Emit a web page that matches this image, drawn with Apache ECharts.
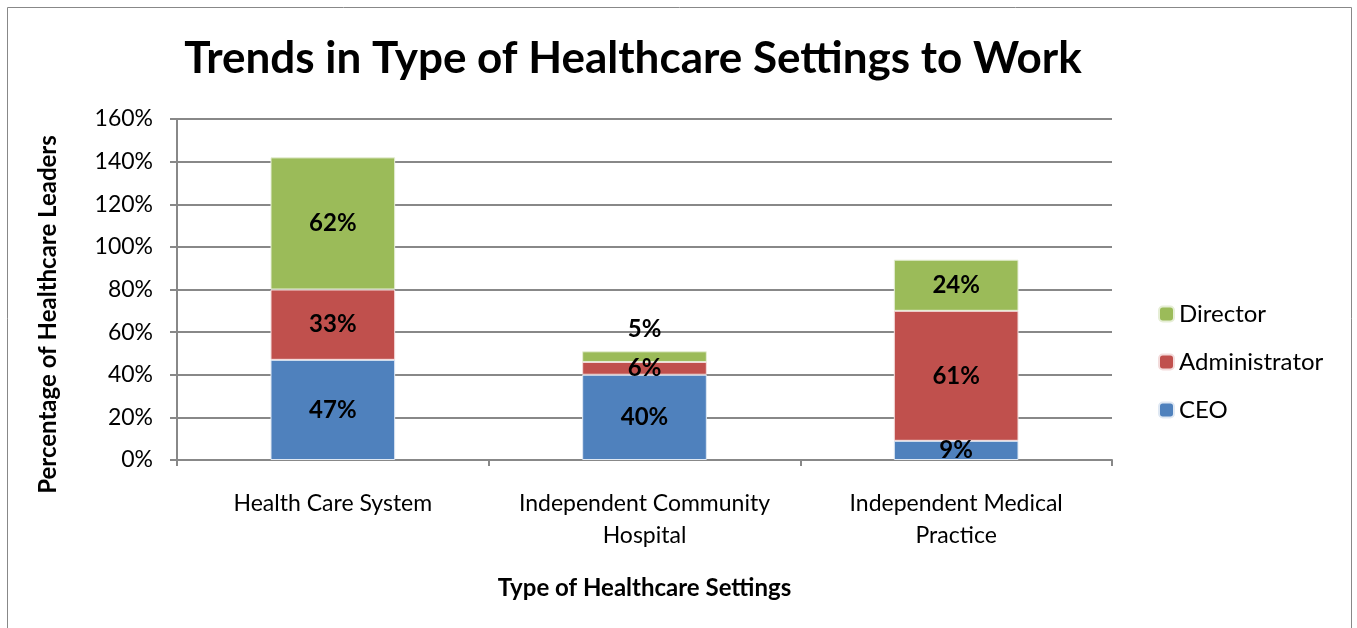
<!DOCTYPE html>
<html>
<head>
<meta charset="utf-8">
<style>
  html, body { margin: 0; padding: 0; background: #fff; }
  #chart { width: 1357px; height: 628px; }
</style>
<script src="https://cdn.jsdelivr.net/npm/echarts@6/dist/echarts.min.js"></script>
</head>
<body>
<div id="chart"></div>
<script>
// Trends in type of healthcare settings - stacked bar
const categories = ['Health Care System', 'Independent Community\nHospital', 'Independent Medical\nPractice'];
const ceo = [47, 40, 9];
const administrator = [33, 6, 61];
const director = [62, 5, 24];
const yTicks = [0, 20, 40, 60, 80, 100, 120, 140, 160];

const font = 'Lato, "Open Sans", sans-serif';
const chart = echarts.init(document.getElementById('chart'));

const barLabel = {
    show: true,
    position: 'inside',
    formatter: p => p.value + '%',
    color: '#000',
    fontWeight: 'bold',
    fontSize: 24,
    fontFamily: font
};

chart.setOption({
    animation: false,
    textStyle: { fontFamily: font },
    graphic: [{
        type: 'rect',
        shape: { x: 7.5, y: 7.5, width: 1344, height: 640 },
        style: { fill: 'none', stroke: '#888', lineWidth: 1 }
    }],
    title: {
        text: 'Trends in Type of Healthcare Settings to Work',
        left: 628,
        textAlign: 'center',
        top: 32,
        textStyle: { fontSize: 44, fontWeight: 'bold', color: '#000', fontFamily: font }
    },
    legend: {
        orient: 'vertical',
        left: 1153,
        top: 297,
        itemWidth: 15,
        itemHeight: 15,
        itemGap: 24,
        data: ['Director', 'Administrator', 'CEO'],
        textStyle: { fontSize: 24, color: '#000', fontFamily: font }
    },
    grid: { left: 177, right: 245, top: 119, bottom: 168 },
    xAxis: {
        type: 'category',
        data: categories,
        name: 'Type of Healthcare Settings',
        nameLocation: 'middle',
        nameGap: 116,
        nameTextStyle: { fontSize: 24, fontWeight: 'bold', color: '#000' },
        axisLine: { lineStyle: { color: '#888', width: 2 } },
        axisTick: { show: true, length: 6, lineStyle: { color: '#888', width: 2 } },
        axisLabel: { fontSize: 23, color: '#000', margin: 28, lineHeight: 32, interval: 0, hideOverlap: false }
    },
    yAxis: {
        type: 'value',
        min: yTicks[0],
        max: yTicks[yTicks.length - 1],
        interval: 20,
        name: 'Percentage of Healthcare Leaders',
        nameLocation: 'middle',
        nameGap: 117,
        nameTextStyle: { fontSize: 24, fontWeight: 'bold', color: '#000', padding: [0, 50, 0, 0] },
        axisLine: { show: true, lineStyle: { color: '#888', width: 2 } },
        axisTick: { show: true, length: 7, lineStyle: { color: '#888', width: 2 } },
        axisLabel: { fontSize: 23, color: '#000', margin: 24, formatter: v => v + '%' },
        splitLine: { lineStyle: { color: '#888', width: 2 } }
    },
    series: [
        {
            name: 'CEO',
            type: 'bar',
            stack: 'total',
            barWidth: '40%',
            data: ceo,
            itemStyle: { color: '#4F81BD', borderColor: '#dfe8f3', borderWidth: 1 },
            label: barLabel
        },
        {
            name: 'Administrator',
            type: 'bar',
            stack: 'total',
            data: administrator,
            itemStyle: { color: '#C0504D', borderColor: '#f3dcdc', borderWidth: 1 },
            label: barLabel
        },
        {
            name: 'Director',
            type: 'bar',
            stack: 'total',
            data: director.map((v, i) => i === 1
                ? { value: v, label: { position: 'top', distance: 10 } }
                : v),
            itemStyle: { color: '#9BBB59', borderColor: '#e6eed6', borderWidth: 1 },
            label: barLabel
        }
    ]
});
</script>
</body>
</html>
